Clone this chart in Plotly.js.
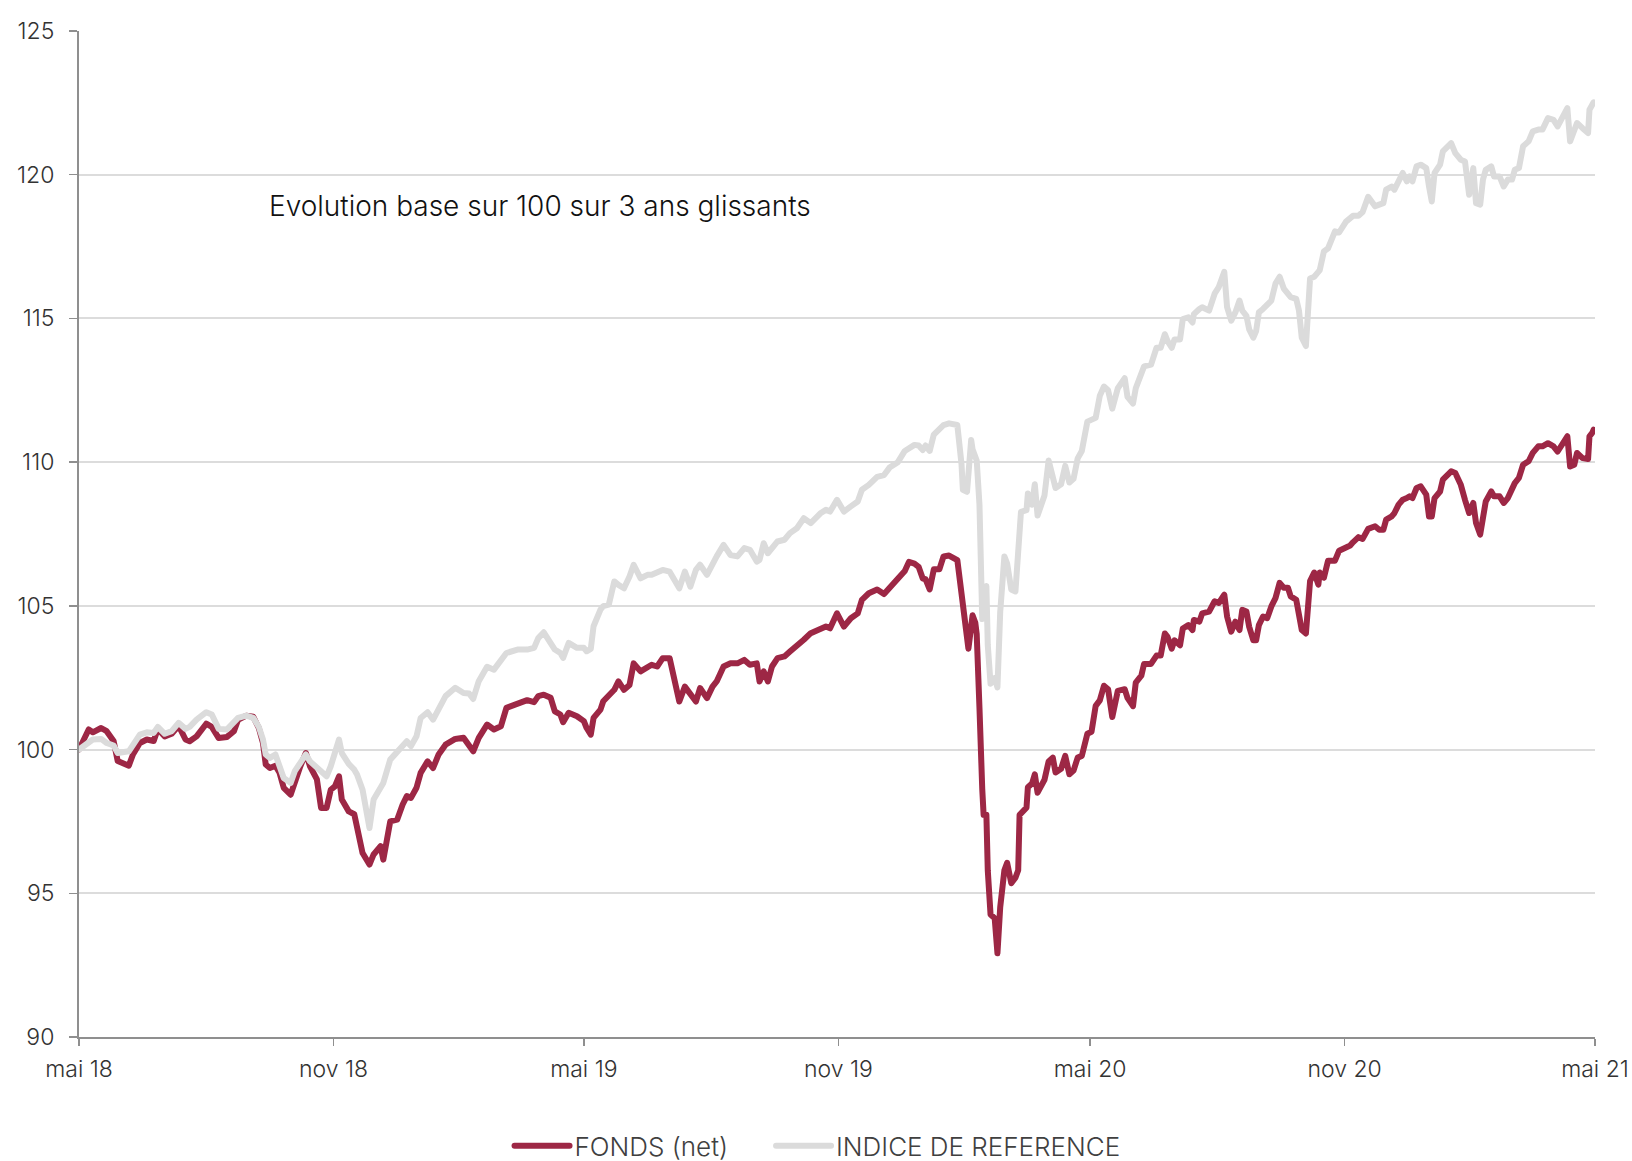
<!DOCTYPE html>
<html>
<head>
<meta charset="utf-8">
<script src="https://cdn.plot.ly/plotly-3.0.1.min.js"></script>
<style>
html,body{margin:0;padding:0;background:#fff;}
#chart{width:1632px;height:1161px;}
.js-line{stroke-linejoin:round;stroke-linecap:round;}
</style>
</head>
<body>
<div id="chart"></div>
<script>
// ---- data ----
const dates = [
'2018-05-01','2018-05-08','2018-05-11','2018-05-17','2018-05-21','2018-05-26','2018-05-29','2018-06-06','2018-06-09','2018-06-14',
'2018-06-19','2018-06-24','2018-06-27','2018-07-02','2018-07-07','2018-07-12','2018-07-17','2018-07-20','2018-07-25','2018-08-01',
'2018-08-05','2018-08-10','2018-08-16','2018-08-21','2018-08-24','2018-08-30','2018-09-04','2018-09-08','2018-09-11','2018-09-13',
'2018-09-16','2018-09-20','2018-09-23','2018-09-26','2018-10-01','2018-10-04','2018-10-08','2018-10-12','2018-10-15','2018-10-20',
'2018-10-23','2018-10-27','2018-10-30','2018-11-02','2018-11-05','2018-11-07','2018-11-12','2018-11-16','2018-11-18','2018-11-22',
'2018-11-27','2018-11-30','2018-12-05','2018-12-07','2018-12-12','2018-12-17','2018-12-21','2018-12-24','2018-12-27','2018-12-31',
'2019-01-03','2019-01-08','2019-01-12','2019-01-16','2019-01-21','2019-01-28','2019-02-03','2019-02-07','2019-02-10','2019-02-14',
'2019-02-20','2019-02-25','2019-03-02','2019-03-06','2019-03-14','2019-03-21','2019-03-26','2019-03-29','2019-04-02','2019-04-07',
'2019-04-10','2019-04-14','2019-04-16','2019-04-20','2019-04-26','2019-05-01','2019-05-03','2019-05-06','2019-05-08','2019-05-13',
'2019-05-15','2019-05-19','2019-05-23','2019-05-26','2019-05-30','2019-06-03','2019-06-06','2019-06-11','2019-06-16','2019-06-19',
'2019-06-23','2019-06-27','2019-07-02','2019-07-05','2019-07-09','2019-07-13','2019-07-17','2019-07-21','2019-07-24','2019-07-29',
'2019-08-02','2019-08-05','2019-08-10','2019-08-15','2019-08-20','2019-08-25','2019-08-29','2019-09-03','2019-09-05','2019-09-08',
'2019-09-11','2019-09-14','2019-09-18','2019-09-23','2019-09-27','2019-10-02','2019-10-07','2019-10-12','2019-10-19','2019-10-23',
'2019-10-26','2019-10-31','2019-11-05','2019-11-10','2019-11-15','2019-11-18','2019-11-23','2019-11-29','2019-12-04','2019-12-08',
'2019-12-14','2019-12-19','2019-12-22','2019-12-26','2019-12-29','2020-01-01','2020-01-03','2020-01-06','2020-01-09','2020-01-13',
'2020-01-16','2020-01-20','2020-01-26','2020-01-29','2020-01-30','2020-02-02','2020-02-03','2020-02-05','2020-02-06','2020-02-08',
'2020-02-09','2020-02-11','2020-02-12','2020-02-13','2020-02-14','2020-02-16','2020-02-17','2020-02-19','2020-02-22','2020-02-24',
'2020-02-26','2020-02-29','2020-03-02','2020-03-05','2020-03-08','2020-03-10','2020-03-11','2020-03-12','2020-03-16','2020-03-17',
'2020-03-20','2020-03-22','2020-03-24','2020-03-29','2020-04-01','2020-04-04','2020-04-06','2020-04-10','2020-04-13','2020-04-16',
'2020-04-19','2020-04-22','2020-04-25','2020-04-29','2020-05-02','2020-05-05','2020-05-08','2020-05-11','2020-05-14','2020-05-17',
'2020-05-21','2020-05-26','2020-05-28','2020-06-01','2020-06-03','2020-06-07','2020-06-09','2020-06-14','2020-06-18','2020-06-21',
'2020-06-24','2020-06-26','2020-06-29','2020-07-01','2020-07-05','2020-07-07','2020-07-11','2020-07-14','2020-07-15','2020-07-19',
'2020-07-21','2020-07-26','2020-07-30','2020-08-02','2020-08-06','2020-08-08','2020-08-11','2020-08-14','2020-08-17','2020-08-19',
'2020-08-22','2020-08-24','2020-08-27','2020-08-29','2020-08-31','2020-09-03','2020-09-06','2020-09-09','2020-09-12','2020-09-15',
'2020-09-18','2020-09-21','2020-09-23','2020-09-27','2020-09-29','2020-10-01','2020-10-04','2020-10-07','2020-10-10','2020-10-13',
'2020-10-14','2020-10-17','2020-10-20','2020-10-25','2020-10-28','2020-11-02','2020-11-05','2020-11-07','2020-11-11','2020-11-14',
'2020-11-18','2020-11-23','2020-11-26','2020-11-29','2020-12-01','2020-12-05','2020-12-07','2020-12-10','2020-12-13','2020-12-16',
'2020-12-18','2020-12-20','2020-12-23','2020-12-26','2020-12-30','2021-01-01','2021-01-03','2021-01-05','2021-01-09','2021-01-11',
'2021-01-15','2021-01-17','2021-01-20','2021-01-22','2021-01-24','2021-01-27','2021-01-29','2021-01-30','2021-02-02','2021-02-04',
'2021-02-07','2021-02-09','2021-02-11','2021-02-15','2021-02-17','2021-02-21','2021-02-24','2021-02-27','2021-03-02','2021-03-04',
'2021-03-07','2021-03-10','2021-03-14','2021-03-17','2021-03-21','2021-03-24','2021-03-28','2021-04-01','2021-04-04','2021-04-08',
'2021-04-11','2021-04-13','2021-04-16','2021-04-18','2021-04-22','2021-04-26','2021-04-27','2021-04-29','2021-04-30'
];

const fonds = [
100.0,100.7,100.6,100.75,100.64,100.3,99.6,99.44,99.83,100.23,
100.35,100.3,100.72,100.46,100.55,100.83,100.35,100.29,100.46,100.9,
100.79,100.4,100.44,100.64,101.04,101.18,101.14,100.75,100.23,99.48,
99.36,99.44,99.19,98.67,98.43,98.9,99.42,99.88,99.42,98.96,
97.97,97.97,98.6,98.72,99.07,98.26,97.85,97.75,97.33,96.4,
96.0,96.35,96.64,96.17,97.5,97.56,98.09,98.38,98.32,98.67,
99.19,99.59,99.36,99.83,100.17,100.37,100.41,100.17,99.94,100.41,
100.87,100.7,100.81,101.45,101.57,101.72,101.65,101.86,101.91,101.8,
101.33,101.22,100.95,101.28,101.16,100.99,100.75,100.52,101.1,101.39,
101.68,101.91,102.08,102.37,102.08,102.25,103.0,102.72,102.83,102.95,
102.89,103.18,103.18,102.6,101.67,102.19,101.9,101.67,102.14,101.79,
102.19,102.37,102.89,103.0,103.0,103.12,102.95,103.0,102.37,102.72,
102.37,102.89,103.18,103.24,103.41,103.59,103.82,104.05,104.17,104.28,
104.22,104.74,104.28,104.57,104.74,105.21,105.44,105.57,105.41,105.63,
105.89,106.21,106.53,106.47,106.36,105.95,105.93,105.57,106.27,106.27,
106.72,106.75,106.59,105.31,104.8,103.77,103.51,104.28,104.67,104.41,
104.02,101.45,99.4,98.63,97.73,97.73,95.8,94.26,94.13,92.91,
94.52,95.8,96.06,95.35,95.54,95.8,97.73,97.79,97.98,98.69,
98.82,99.14,98.5,98.95,99.59,99.72,99.2,99.33,99.78,99.14,
99.27,99.72,99.78,100.55,100.62,101.52,101.71,102.22,102.1,101.13,
102.04,102.1,101.8,101.51,102.33,102.57,102.98,102.98,103.27,103.27,
104.04,103.92,103.51,103.8,103.63,104.21,104.33,104.16,104.51,104.45,
104.74,104.8,105.16,105.1,105.39,104.63,104.1,104.45,104.16,104.86,
104.8,104.27,103.8,103.8,104.33,104.63,104.57,104.98,105.27,105.8,
105.63,105.63,105.33,105.21,104.8,104.16,104.04,105.86,106.16,105.74,
106.16,105.98,106.57,106.57,106.92,107.04,107.1,107.21,107.39,107.33,
107.68,107.77,107.65,107.65,108.0,108.11,108.23,108.52,108.69,108.75,
108.81,108.75,109.1,109.16,108.87,108.11,108.11,108.75,108.98,109.39,
109.56,109.68,109.62,109.45,109.21,108.69,108.29,108.23,108.58,107.88,
107.48,108.23,108.63,108.98,108.81,108.81,108.58,108.75,109.1,109.27,
109.45,109.91,110.03,110.32,110.55,110.55,110.66,110.55,110.37,110.72,
110.9,109.85,109.91,110.32,110.14,110.11,110.9,111.02,111.13
];

const indice = [
100.0,100.23,100.35,100.37,100.23,100.14,99.88,99.94,100.17,100.52,
100.6,100.58,100.79,100.55,100.64,100.93,100.72,100.79,101.04,101.3,
101.22,100.72,100.7,100.93,101.1,101.18,101.1,100.79,100.35,99.83,
99.71,99.83,99.48,99.01,98.84,99.25,99.54,99.83,99.59,99.36,
99.25,99.07,99.42,99.83,100.35,99.88,99.5,99.3,99.13,98.6,
97.27,98.26,98.72,98.84,99.65,99.94,100.12,100.29,100.12,100.46,
101.1,101.3,101.04,101.39,101.86,102.15,101.97,101.95,101.76,102.38,
102.88,102.78,103.07,103.36,103.48,103.48,103.54,103.88,104.08,103.65,
103.48,103.36,103.19,103.71,103.54,103.54,103.42,103.5,104.29,104.87,
104.99,105.04,105.85,105.73,105.61,106.02,106.43,105.96,106.08,106.08,
106.14,106.25,106.19,105.9,105.61,106.19,105.67,106.25,106.43,106.08,
106.48,106.72,107.12,106.77,106.72,107.01,106.95,106.54,106.6,107.18,
106.83,107.01,107.24,107.3,107.53,107.7,108.05,107.88,108.22,108.34,
108.28,108.69,108.28,108.46,108.63,109.04,109.21,109.49,109.55,109.81,
110.0,110.39,110.48,110.6,110.58,110.42,110.58,110.39,110.96,111.16,
111.29,111.35,111.29,109.94,109.04,108.97,109.55,110.77,110.45,110.19,
110.06,108.52,106.08,104.54,105.05,105.69,103.64,102.29,102.48,102.16,
104.79,106.72,106.47,105.57,105.5,106.85,107.62,108.27,108.33,108.91,
108.52,109.23,108.14,108.84,110.06,109.55,109.1,109.23,109.87,109.29,
109.42,110.13,110.39,111.41,111.48,111.54,112.31,112.63,112.5,111.86,
112.57,112.92,112.27,112.04,112.57,113.04,113.33,113.39,113.98,113.98,
114.45,114.21,113.98,114.27,114.27,114.98,115.04,114.86,115.15,115.33,
115.39,115.27,115.86,116.09,116.62,115.39,114.92,115.21,115.62,115.27,
115.09,114.62,114.33,114.56,115.21,115.33,115.51,115.62,116.21,116.45,
116.04,115.86,115.74,115.68,115.27,114.33,114.04,116.39,116.45,116.62,
116.68,117.33,117.44,118.03,117.99,118.37,118.53,118.57,118.57,118.7,
119.23,118.9,118.96,119.01,119.48,119.59,119.48,119.83,120.06,119.77,
119.94,119.77,120.29,120.35,120.23,119.59,119.07,120.06,120.35,120.81,
121.04,121.1,120.75,120.64,120.52,120.46,119.59,119.3,120.23,119.01,
118.96,119.83,120.17,120.29,119.94,119.94,119.59,119.83,119.83,120.17,
120.23,120.99,121.16,121.51,121.57,121.57,121.97,121.91,121.68,122.03,
122.32,121.16,121.57,121.8,121.62,121.45,122.26,122.4,122.52
];

const tickDates  = ['2018-05-01','2018-11-01','2019-05-01','2019-11-01','2020-05-01','2020-11-01','2021-05-01'];
const tickLabels = ['mai 18','nov 18','mai 19','nov 19','mai 20','nov 20','mai 21'];
const yTicks     = [90, 95, 100, 105, 110, 115, 120, 125];
const seriesNames = ['FONDS (net)', 'INDICE DE REFERENCE'];
const chartNote = 'Evolution base sur 100 sur 3 ans glissants';

// ---- styles ----
const FONT = 'Inter, Lato, sans-serif';
const RED = '#9d2745';
const GREY = '#dbdbdb';
const legendFont = {family: FONT, size: 26, color: '#404040', weight: 300};

const traces = [
  {x: dates, y: fonds, name: seriesNames[0], type: 'scatter', mode: 'lines',
   line: {color: RED, width: 6}, hoverinfo: 'skip', legend: 'legend'},
  {x: dates, y: indice, name: seriesNames[1], type: 'scatter', mode: 'lines',
   line: {color: GREY, width: 6}, hoverinfo: 'skip', legend: 'legend2'}
];

const layout = {
  width: 1632, height: 1161,
  margin: {l: 79, r: 37, t: 31, b: 124, pad: 0, autoexpand: false},
  paper_bgcolor: '#ffffff', plot_bgcolor: '#ffffff',
  font: {family: FONT, size: 23, color: '#333333', weight: 300},
  showlegend: true,
  legend: {
    orientation: 'h', xref: 'paper', yref: 'container',
    x: 0.284, xanchor: 'left', y: 0.013, yanchor: 'middle',
    font: legendFont, itemwidth: 55, bgcolor: 'rgba(0,0,0,0)', borderwidth: 0
  },
  legend2: {
    orientation: 'h', xref: 'paper', yref: 'container',
    x: 0.4565, xanchor: 'left', y: 0.013, yanchor: 'middle',
    font: legendFont, itemwidth: 55, bgcolor: 'rgba(0,0,0,0)', borderwidth: 0
  },
  xaxis: {
    type: 'date', range: ['2018-05-01', '2021-05-01'],
    tickmode: 'array', tickvals: tickDates, ticktext: tickLabels,
    showgrid: false, zeroline: false,
    showline: true, linecolor: '#8f8f8f', linewidth: 2,
    ticks: 'outside', ticklen: 7, tickwidth: 1.5, tickcolor: '#8f8f8f',
    ticklabelstandoff: 3,
    tickfont: {family: FONT, size: 23, color: '#333333', weight: 300},
    fixedrange: true
  },
  yaxis: {
    range: [90, 125], tickmode: 'array', tickvals: yTicks,
    showgrid: true, gridcolor: '#dcdcdc', gridwidth: 2,
    zeroline: false,
    showline: true, linecolor: '#8f8f8f', linewidth: 2,
    ticks: 'outside', ticklen: 8, tickwidth: 1.5, tickcolor: '#8f8f8f',
    ticklabelstandoff: 10,
    tickfont: {family: FONT, size: 23, color: '#333333', weight: 300},
    fixedrange: true
  },
  annotations: [{
    text: chartNote, xref: 'paper', yref: 'paper',
    x: 0.124, y: 0.8265, xanchor: 'left', yanchor: 'middle',
    showarrow: false, font: {family: FONT, size: 28, color: '#111111', weight: 300}
  }]
};

Plotly.newPlot('chart', traces, layout, {displayModeBar: false, staticPlot: true});
</script>
</body>
</html>
